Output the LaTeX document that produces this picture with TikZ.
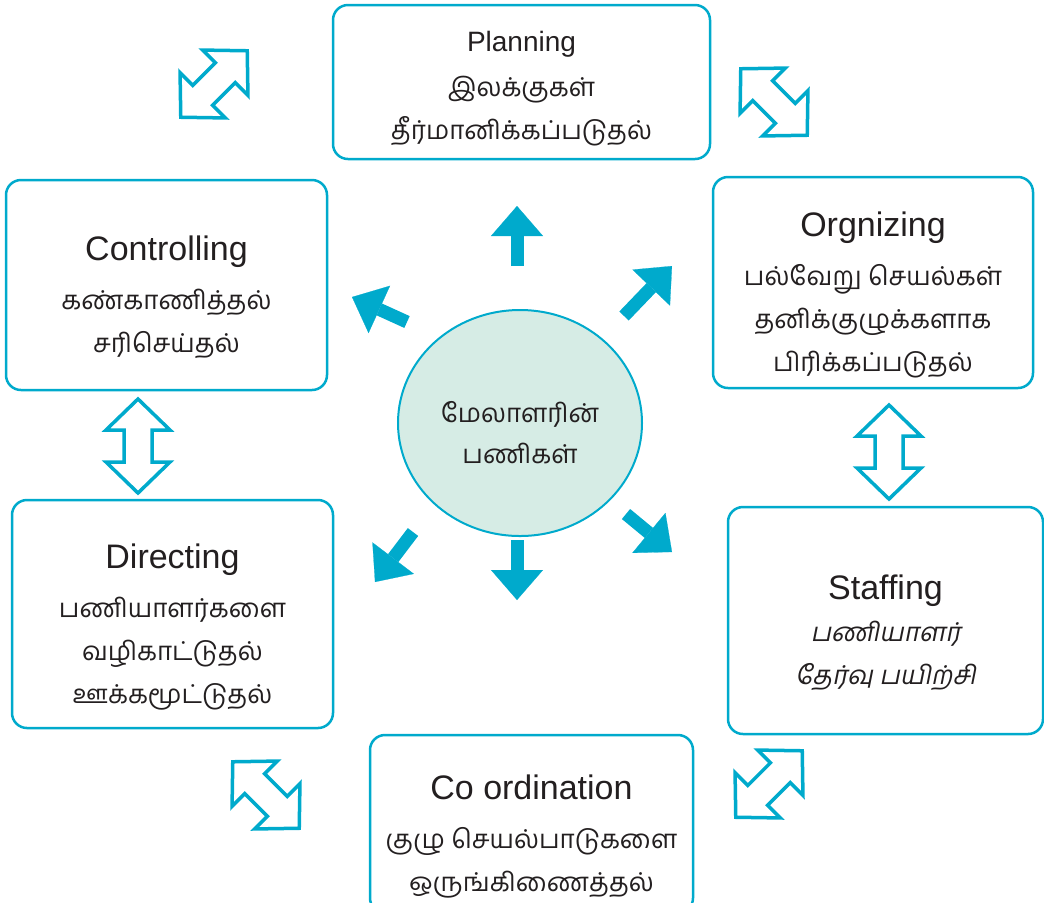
\documentclass[tikz,border=0pt]{standalone}
\usepackage{fontspec}
\usepackage{tikz}
\usetikzlibrary{shapes.geometric, arrows.meta}
\setmainfont{Liberation Sans}
\newfontfamily\tamil[Script=Tamil]{Hind Madurai}
\newfontfamily\tamilit[Script=Tamil, FakeSlant=0.2]{Hind Madurai}
\definecolor{boxCyan}{RGB}{0, 170, 204}
\definecolor{discGreen}{RGB}{214, 236, 229}
\definecolor{textDark}{RGB}{35, 31, 32}
\newcommand\taskhead[2][3pt]{{\rmfamily\fontsize{17pt}{21.5pt}\selectfont\rule{0pt}{25pt}#2}\\[#1]}

\begin{document}
\begin{tikzpicture}[x=0.5pt, y=-0.5pt,
    task/.style={draw=boxCyan, line width=1.25pt, rounded corners=7.5pt, fill=white,
      align=center, text=textDark, inner sep=0pt,
      font=\tamil\fontsize{13pt}{21.5pt}\selectfont},
    fat/.style={boxCyan, line width=6.5pt,
      -{Triangle[length=15pt, width=26pt, line width=0.1pt]}},
    swap/.pic={\filldraw[draw=boxCyan, fill=white, line width=1.75pt, line join=miter]
      (0,-47) -- (32,-16) -- (14,-16) -- (14,16) -- (32,16) -- (0,47)
      -- (-32,16) -- (-14,16) -- (-14,-16) -- (-32,-16) -- cycle;}]
  \useasboundingbox (0,0) rectangle (1044,902);

  \node[task, minimum width=188.5pt, minimum height=77pt] (plan) at (521.5,82)
    {{\rmfamily\fontsize{14pt}{21.5pt}\selectfont\rule{0pt}{17pt}Planning}\\[1pt]இலக்குகள்\\தீர்மானிக்கப்படுதல்};
  \node[task, minimum width=160pt, minimum height=105.5pt] (org) at (873,282.5)
    {\taskhead{Orgnizing}பல்வேறு செயல்கள்\\தனிக்குழுக்களாக\\பிரிக்கப்படுதல்};
  \node[task, minimum width=160.5pt, minimum height=105pt] (ctrl) at (166.5,285)
    {\taskhead{Controlling}கண்காணித்தல்\\சரிசெய்தல்};
  \node[task, minimum width=160.5pt, minimum height=114pt] (dir) at (172.5,614)
    {\taskhead{Directing}பணியாளர்களை\\வழிகாட்டுதல்\\ஊக்கமூட்டுதல்};
  \node[task, minimum width=157.5pt, minimum height=113.5pt] (staff) at (885.5,620.5)
    {\taskhead[-0.5pt]{Staffing}\tamilit பணியாளர்\\\tamilit தேர்வு பயிற்சி};
  \node[task, minimum width=161.5pt, minimum height=89pt] (coord) at (531.5,824)
    {\taskhead{Co ordination}குழு செயல்பாடுகளை\\ஒருங்கிணைத்தல்};

  \node[ellipse, draw=boxCyan, line width=1pt, fill=discGreen, minimum width=122pt,
    minimum height=113pt, align=center, text=textDark,
    font=\tamil\fontsize{13pt}{20.5pt}\selectfont] (mgr) at (520,423)
    {\rule{0pt}{20pt}மேலாளரின்\\பணிகள்};

  \foreach \xa/\ya/\xb/\yb in {517/266/517/206, 624/316/672/266, 407/322/352/297,
      413/532/375/582, 517/540/517/600, 626/514/672/552}
    \draw[fat] (\xa,\ya) -- (\xb,\yb);

  \pic at (138,446) {swap};
  \pic at (889,452) {swap};
  \pic[rotate=-45] at (214,84) {swap};
  \pic[rotate=45] at (774,102) {swap};
  \pic[rotate=45] at (266,795) {swap};
  \pic[rotate=-45] at (769,784) {swap};
\end{tikzpicture}
\end{document}
